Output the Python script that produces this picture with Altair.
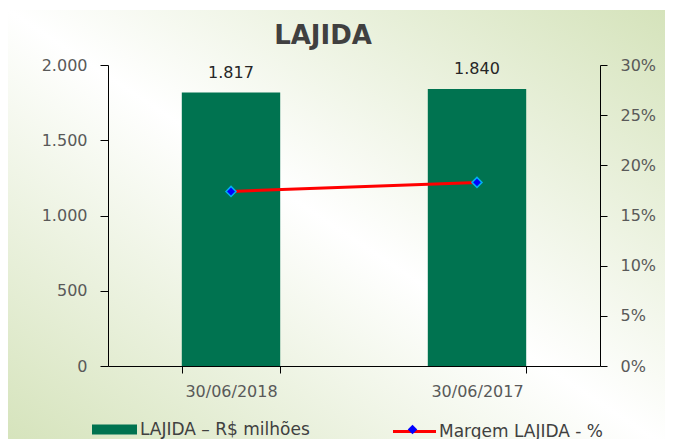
import altair as alt
import pandas as pd

categories = ["30/06/2018", "30/06/2017"]
lajida = [1817, 1840]
margem = [0.174, 0.183]
bar_series = "LAJIDA – R$ milhões"
line_series = "Margem LAJIDA - %"
marker_series = "Margem LAJIDA (marcador)"
left_ticks = [0, 500, 1000, 1500, 2000]
right_ticks = [0, 0.05, 0.10, 0.15, 0.20, 0.25, 0.30]

df = pd.DataFrame({
    "periodo": categories,
    "lajida": lajida,
    "margem": margem,
    "sb": [bar_series] * len(categories),
    "sl": [line_series] * len(categories),
    "sp": [marker_series] * len(categories),
})

W, H = 492, 301
FONT = "DejaVu Sans"
GREEN = "#007350"
BG_GREEN = "#d5e3bb"

x_enc = alt.X(
    "periodo:N", sort=categories, title=None,
    scale=alt.Scale(paddingInner=0.6, paddingOuter=0.3),
    axis=alt.Axis(labelAngle=0, tickBand="extent", domainColor="black", tickColor="black",
                  tickSize=7, labelPadding=10, labelFontSize=16, labelColor="#595959",
                  labelFont=FONT, zindex=1),
)

bg = alt.Chart(df).transform_aggregate(n="count()").mark_rect(
    fill=alt.LinearGradient(
        gradient="linear",
        stops=[
            alt.GradientStop(color=BG_GREEN, offset=0),
            alt.GradientStop(color="#ffffff", offset=0.5),
            alt.GradientStop(color=BG_GREEN, offset=1),
        ],
        x1=0, y1=1, x2=1, y2=0,
    )
).encode(x=alt.value(-100), x2=alt.value(W + 65), y=alt.value(-55), y2=alt.value(H + 80))

y_left = alt.Y(
    "lajida:Q", title=None,
    scale=alt.Scale(domain=[0, 2000]),
    axis=alt.Axis(values=left_ticks, orient="left", domainColor="black", tickColor="black",
                  tickSize=8, labelPadding=13, labelFontSize=16, labelColor="#595959",
                  labelFont=FONT, grid=False, zindex=1,
                  labelExpr="replace(format(datum.value, ','), ',', '.')"),
)

bars = alt.Chart(df).mark_bar().encode(
    x=x_enc,
    y=y_left,
    fill=alt.Fill("sb:N", scale=alt.Scale(range=[GREEN]),
                  legend=alt.Legend(title=None, orient="none", legendX=-16, legendY=342,
                                    symbolType="M-1,-0.22H1V0.22H-1Z", symbolSize=2025,
                                    symbolStrokeWidth=0, labelFontSize=17, labelFont=FONT,
                                    labelColor="#404040", labelOffset=3, labelLimit=400,
                                    padding=0)),
)

labels = alt.Chart(df).transform_calculate(
    lbl="replace(format(datum.lajida, ','), ',', '.')"
).mark_text(baseline="bottom", dy=-12, fontSize=16, font=FONT, color="#262626").encode(
    x=alt.X("periodo:N", sort=categories),
    y=alt.Y("lajida:Q"),
    text="lbl:N",
)

y_right = alt.Y(
    "margem:Q", title=None,
    scale=alt.Scale(domain=[0, 0.30]),
    axis=alt.Axis(values=right_ticks, orient="right", format=".0%", domainColor="black",
                  tickColor="black", tickSize=7, labelPadding=13, labelFontSize=16,
                  labelColor="#595959", labelFont=FONT, grid=False, zindex=1),
)

line = alt.Chart(df).mark_line(strokeWidth=3).encode(
    x=alt.X("periodo:N", sort=categories),
    y=y_right,
    stroke=alt.Stroke("sl:N", scale=alt.Scale(range=["#ff0000"]),
                      legend=alt.Legend(title=None, orient="none", legendX=283, legendY=343,
                                        symbolType="M-1,0H1", symbolSize=1850,
                                        symbolStrokeWidth=3, labelFontSize=17, labelFont=FONT,
                                        labelColor="#404040", labelOffset=1, labelLimit=400,
                                        padding=0)),
)

points = alt.Chart(df).mark_point(filled=True, fill="#0000ff", stroke="#00b0f0",
                                  strokeWidth=1.5, size=100, opacity=1).encode(
    x=alt.X("periodo:N", sort=categories),
    y=alt.Y("margem:Q"),
    shape=alt.Shape("sp:N", scale=alt.Scale(range=["diamond"]),
                    legend=alt.Legend(title=None, orient="none", legendX=299, legendY=359,
                                      symbolSize=90, symbolFillColor="#0000ff",
                                      symbolStrokeColor="#00b0f0", symbolStrokeWidth=1.5,
                                      labelExpr="''", labelFontSize=1, labelOffset=0,
                                      padding=0)),
)

chart = alt.layer(
    bg,
    alt.layer(bars, labels),
    alt.layer(line, points),
).resolve_scale(y="independent").properties(
    width=W, height=H,
    autosize=alt.AutoSizeParams(type="none"),
    padding={"left": 100, "top": 57, "right": 65, "bottom": 75},
    title=alt.Title("LAJIDA", fontSize=26, font=FONT, fontWeight="bold", color="#404040",
                    anchor="middle", frame="group", baseline="alphabetic", offset=0,
                    dx=-31, dy=60),
).configure_view(stroke=None).configure(background="white")

chart.save("out.html", embed_options={"renderer": "svg", "actions": False})
